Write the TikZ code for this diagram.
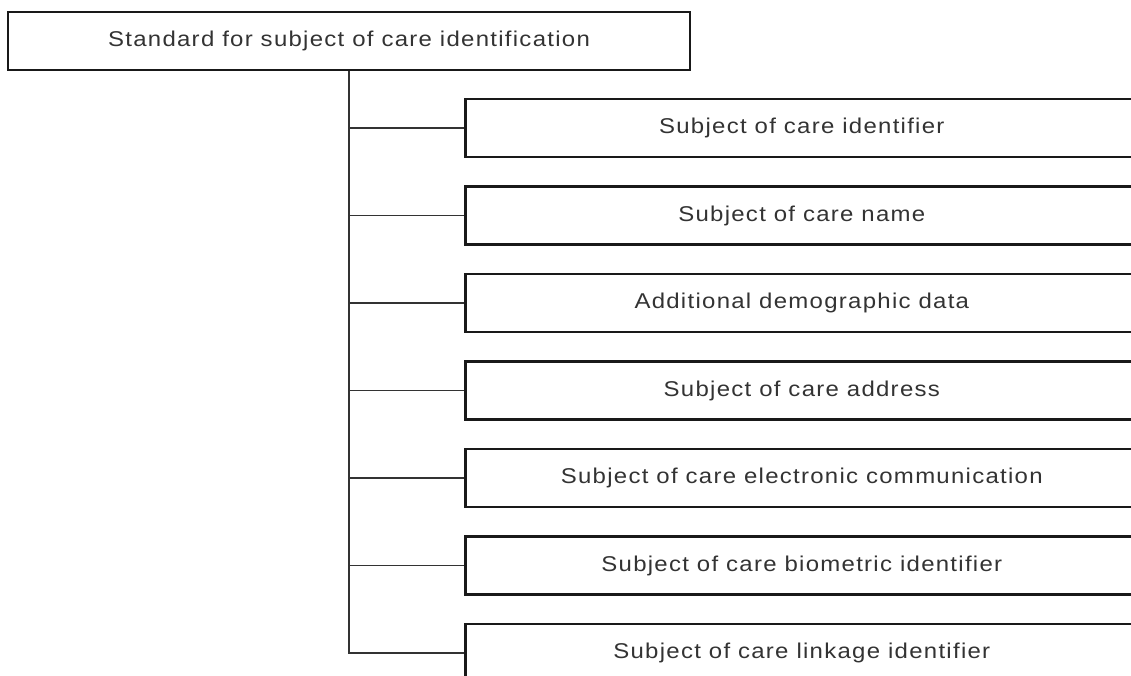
\documentclass[tikz,border=0pt]{standalone}
\usepackage{fontspec}
\setmainfont{Liberation Sans}
\newfontfamily\boxfont[LetterSpace=6,FakeStretch=1.12]{Liberation Sans}
\begin{document}
\begin{tikzpicture}[x=1pt,y=-1pt,
  box/.style={draw=black!90, line width=2.6pt, minimum height=58pt, inner sep=0pt},
  item/.style={box, minimum width=673pt, anchor=west},
  lbl/.style={font=\boxfont\fontsize{21.4pt}{25pt}\selectfont, text=black!80},
  conn/.style={draw=black!80, line width=1.1pt}]
\useasboundingbox (0,0) rectangle (1131,676);
\clip (0,0) rectangle (1131,676);
\fill[white] (0,0) rectangle (1131,676);
\node[box, lbl, minimum width=682pt] (top) at (349,41) {Standard for subject of care identification};
\node[item] (b1) at (464,128) {};
\node[item] (b2) at (464,215.5) {};
\node[item] (b3) at (464,303) {};
\node[item] (b4) at (464,390.5) {};
\node[item] (b5) at (464,478) {};
\node[item] (b6) at (464,565.5) {};
\node[item] (b7) at (464,653) {};
\node[lbl] (t1) at (b1.center) {Subject of care identifier};
\node[lbl] (t2) at (b2.center) {Subject of care name};
\node[lbl] (t3) at (b3.center) {Additional demographic data};
\node[lbl] (t4) at (b4.center) {Subject of care address};
\node[lbl] (t5) at (b5.center) {Subject of care electronic communication};
\node[lbl] (t6) at (b6.center) {Subject of care biometric identifier};
\node[lbl] (t7) at (b7.center) {Subject of care linkage identifier};
\draw[conn] (top.south) |- (b7.west);
\foreach \i in {1,...,6} {\draw[conn] (top.south |- b\i.west) -- (b\i.west);}
\end{tikzpicture}
\end{document}
